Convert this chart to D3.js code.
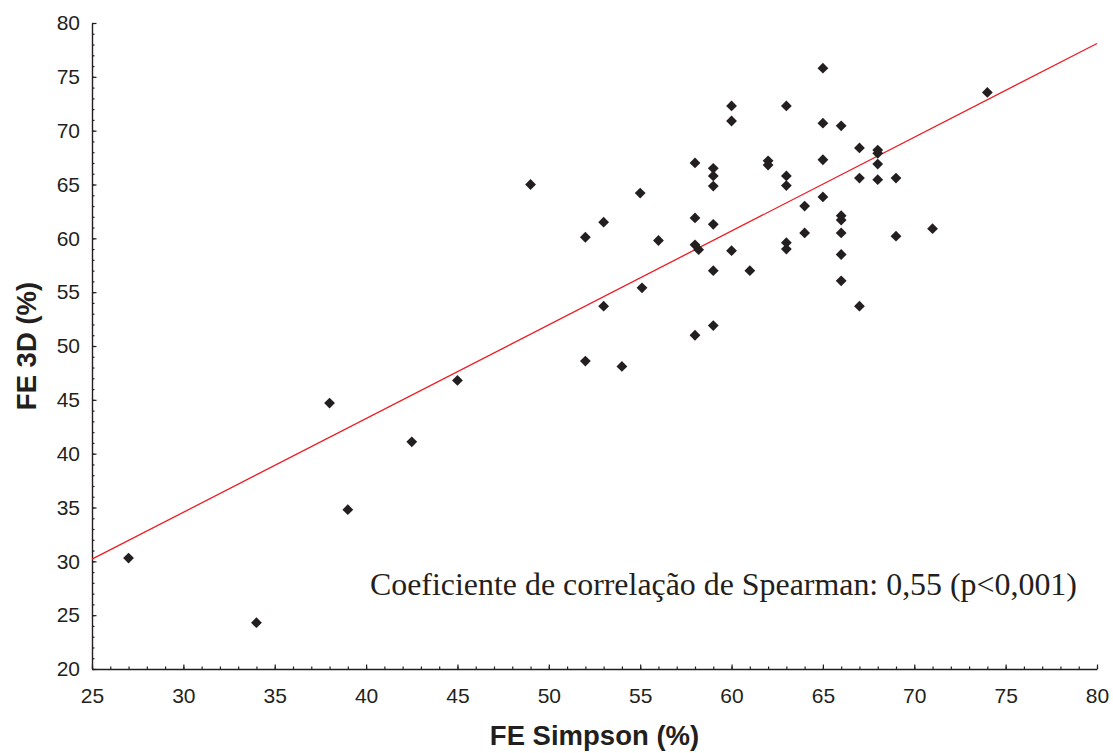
<!DOCTYPE html>
<html>
<head>
<meta charset="utf-8">
<script src="https://cdn.jsdelivr.net/npm/d3@7"></script>
<style>
  html, body { margin: 0; padding: 0; background: #fff; }
  svg { display: block; }
</style>
</head>
<body>
<svg id="chart" width="1113" height="753"></svg>
<script>
// FE Simpson (%) vs FE 3D (%), one entry per patient
const simpson = [27, 34, 38, 39, 42.5, 45, 49, 52, 52, 53, 53, 54, 55, 55.1, 56,
  58, 58, 58, 58.2, 58, 59, 59, 59, 59, 59, 59, 60, 60, 60, 61,
  62, 62, 63, 63, 63, 63, 63, 64, 64, 65, 65, 65, 65, 66, 66,
  66, 66, 66, 66, 67, 67, 67, 68, 68, 68, 68, 69, 69, 71, 74];
const fe3d = [30.3, 24.3, 44.7, 34.8, 41.1, 46.8, 65.0, 60.1, 48.6, 61.5, 53.7, 48.1, 64.2, 55.4, 59.8,
  67.0, 61.9, 59.4, 58.95, 51.0, 66.5, 65.8, 64.85, 61.3, 57.0, 51.9, 72.3, 70.9, 58.85, 57.0,
  67.2, 66.8, 72.3, 65.8, 64.9, 59.6, 59.0, 63.0, 60.5, 75.8, 70.7, 67.3, 63.85, 70.45, 62.1,
  61.7, 60.5, 58.5, 56.05, 68.4, 65.6, 53.7, 68.2, 67.9, 66.9, 65.45, 65.6, 60.2, 60.9, 73.55];

// Fitted regression line endpoints
const fitX = [25, 80];
const fitY = [30.2, 78.1];

const xTicks = [25, 30, 35, 40, 45, 50, 55, 60, 65, 70, 75, 80];
const yTicks = [20, 25, 30, 35, 40, 45, 50, 55, 60, 65, 70, 75, 80];
const xLabel = "FE Simpson (%)";
const yLabel = "FE 3D (%)";
const note = "Coeficiente de correlação de Spearman: 0,55 (p<0,001)";

const ink = "#231f20";
const svg = d3.select("#chart");

const x = d3.scaleLinear().domain([25, 80]).range([92, 1097]);
const y = d3.scaleLinear().domain([20, 80]).range([669, 23]);

const minorX = d3.range(25, 81, 1);
const minorY = d3.range(20, 81, 1);

// Minor ticks (inward)
svg.append("g")
  .attr("transform", `translate(0,${y(20)})`)
  .call(d3.axisBottom(x).tickValues(minorX).tickSize(-2.5).tickSizeOuter(0).tickFormat(""))
  .call(g => g.select(".domain").remove())
  .call(g => g.selectAll("line").attr("stroke", ink).attr("stroke-width", 1.2));
svg.append("g")
  .attr("transform", `translate(${x(25)},0)`)
  .call(d3.axisLeft(y).tickValues(minorY).tickSize(-2.5).tickSizeOuter(0).tickFormat(""))
  .call(g => g.select(".domain").remove())
  .call(g => g.selectAll("line").attr("stroke", ink).attr("stroke-width", 1.2));

// Major axes
const xAxis = svg.append("g")
  .attr("transform", `translate(0,${y(20)})`)
  .call(d3.axisBottom(x).tickValues(xTicks).tickSize(-4.5).tickSizeOuter(0).tickPadding(19).tickFormat(d3.format("d")));
const yAxis = svg.append("g")
  .attr("transform", `translate(${x(25)},0)`)
  .call(d3.axisLeft(y).tickValues(yTicks).tickSize(-4.5).tickSizeOuter(0).tickPadding(12).tickFormat(d3.format("d")));

[xAxis, yAxis].forEach(g => {
  g.select(".domain").attr("stroke", ink).attr("stroke-width", 1.4);
  g.selectAll(".tick line").attr("stroke", ink).attr("stroke-width", 1.2);
  g.selectAll(".tick text")
    .attr("fill", ink)
    .style("font-family", "'Liberation Sans', Arial, sans-serif")
    .style("font-size", "21px");
});

// Regression line
svg.append("line")
  .attr("x1", x(fitX[0])).attr("y1", y(fitY[0]))
  .attr("x2", x(fitX[1])).attr("y2", y(fitY[1]))
  .attr("stroke", "#ed1c24")
  .attr("stroke-width", 1.3);

// Data points as diamonds
const r = 5.4;
svg.append("g")
  .selectAll("path")
  .data(simpson.map((s, i) => [s, fe3d[i]]))
  .join("path")
  .attr("transform", d => `translate(${x(d[0])},${y(d[1])})`)
  .attr("d", `M0,${-r}L${r},0L0,${r}L${-r},0Z`)
  .attr("fill", ink);

// Axis titles
svg.append("text")
  .attr("x", (x(25) + x(80)) / 2)
  .attr("y", 745)
  .attr("text-anchor", "middle")
  .attr("fill", ink)
  .style("font-family", "'Liberation Sans', Arial, sans-serif")
  .style("font-weight", "bold")
  .style("font-size", "27.5px")
  .text(xLabel);

svg.append("text")
  .attr("transform", `translate(36,${(y(20) + y(80)) / 2}) rotate(-90)`)
  .attr("text-anchor", "middle")
  .attr("fill", ink)
  .style("font-family", "'Liberation Sans', Arial, sans-serif")
  .style("font-weight", "bold")
  .style("font-size", "27.5px")
  .text(yLabel);

// Correlation note
svg.append("text")
  .attr("x", 370)
  .attr("y", 595)
  .attr("fill", ink)
  .style("font-family", "'Liberation Serif', 'Times New Roman', serif")
  .style("font-size", "31.9px")
  .text(note);
</script>
</body>
</html>
